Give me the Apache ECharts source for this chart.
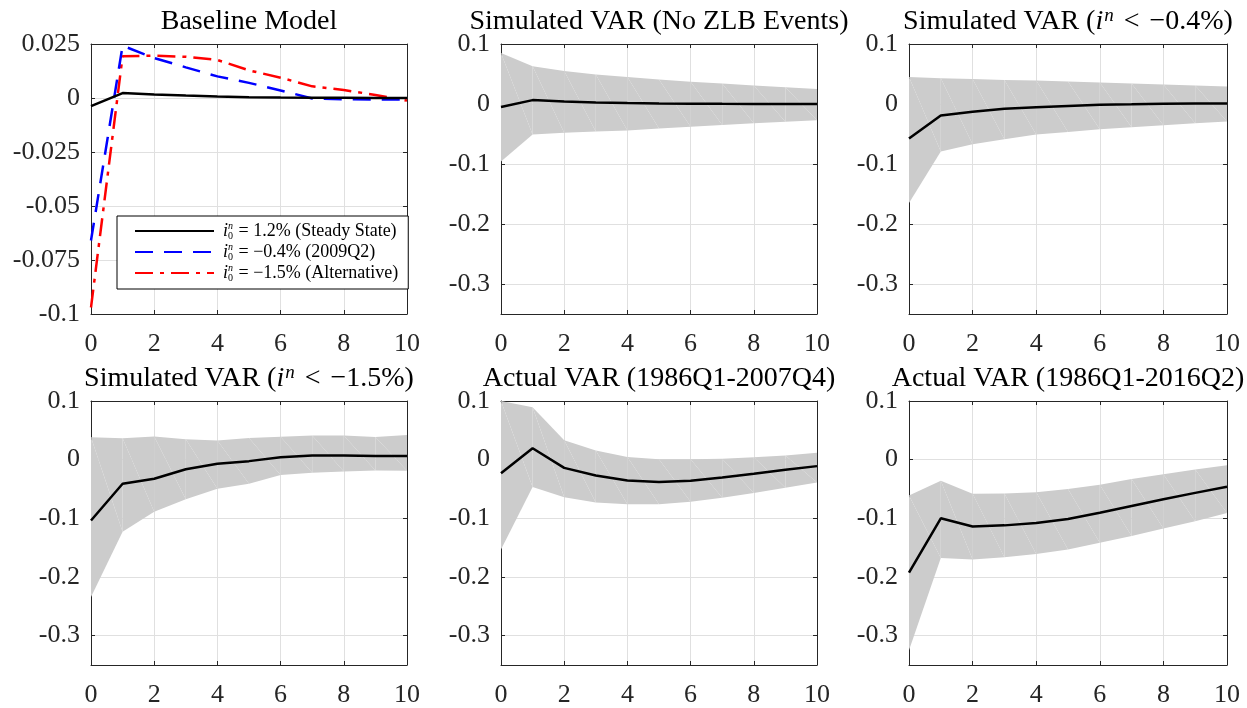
<!DOCTYPE html>
<html>
<head>
<meta charset="utf-8">
<title>Impulse responses</title>
<script src="https://cdn.jsdelivr.net/npm/echarts@6/dist/echarts.min.js"></script>
<style>
  html, body { margin: 0; padding: 0; background: #fff; }
  #chart { width: 1247px; height: 708px; }
</style>
</head>
<body>
<div id="chart"></div>
<script>
// Quarters after the shock
const horizon = [0, 1, 2, 3, 4, 5, 6, 7, 8, 9, 10];
const xTicks = [0, 2, 4, 6, 8, 10];

// Baseline model responses for three initial natural rates
const baseSteady = [-0.0038, 0.0023, 0.0016, 0.0011, 0.0007, 0.0004, 0.0002, 0.0001, 0.0001, 0.0000, 0.0000];
const base2009 = [-0.066, 0.0242, 0.0185, 0.0142, 0.0100, 0.0070, 0.0035, -0.0002, -0.0006, -0.0007, -0.0007];
const baseAlt = [-0.097, 0.0193, 0.0196, 0.0191, 0.0176, 0.0128, 0.0094, 0.0054, 0.0037, 0.0014, -0.0012];
const baseLegend = ['1.2% (Steady State)', '\u22120.4% (2009Q2)', '\u22121.5% (Alternative)'];

// Simulated VAR, no ZLB events
const noZlbMid = [-0.005, 0.0065, 0.004, 0.0025, 0.0015, 0.001, 0.0006, 0.0003, 0.0001, 0.0000, -0.0001];
const noZlbHi = [0.085, 0.063, 0.055, 0.049, 0.045, 0.041, 0.037, 0.034, 0.031, 0.028, 0.025];
const noZlbLo = [-0.096, -0.051, -0.048, -0.046, -0.044, -0.041, -0.038, -0.035, -0.032, -0.0295, -0.027];

// Simulated VAR, i^n < -0.4%
const sim04Mid = [-0.0576, -0.019, -0.013, -0.0078, -0.0055, -0.0033, -0.0011, -0.0005, 0.0005, 0.001, 0.001];
const sim04Hi = [0.045, 0.043, 0.0415, 0.040, 0.039, 0.0377, 0.036, 0.034, 0.0327, 0.031, 0.029];
const sim04Lo = [-0.165, -0.079, -0.067, -0.0587, -0.051, -0.0465, -0.042, -0.0388, -0.0355, -0.032, -0.029];

// Simulated VAR, i^n < -1.5%
const sim15Mid = [-0.1036, -0.041, -0.0325, -0.0164, -0.007, -0.0025, 0.004, 0.007, 0.007, 0.0064, 0.0064];
const sim15Hi = [0.038, 0.0364, 0.0397, 0.035, 0.0325, 0.037, 0.039, 0.0414, 0.0414, 0.0386, 0.042];
const sim15Lo = [-0.234, -0.123, -0.0886, -0.0675, -0.0497, -0.041, -0.026, -0.0225, -0.020, -0.0186, -0.019];

// Actual VAR, 1986Q1-2007Q4
const act07Mid = [-0.023, 0.0194, -0.014, -0.027, -0.0355, -0.038, -0.036, -0.0305, -0.024, -0.017, -0.011];
const act07Hi = [0.1, 0.0894, 0.0333, 0.0155, 0.0044, 0.0005, 0.0005, 0.0017, 0.004, 0.0072, 0.012];
const act07Lo = [-0.153, -0.0466, -0.064, -0.073, -0.076, -0.076, -0.0717, -0.065, -0.0567, -0.048, -0.039];

// Actual VAR, 1986Q1-2016Q2
const act16Mid = [-0.1925, -0.1, -0.114, -0.112, -0.108, -0.101, -0.0905, -0.079, -0.0675, -0.0566, -0.046];
const act16Hi = [-0.061, -0.036, -0.058, -0.0577, -0.0555, -0.05, -0.0427, -0.033, -0.025, -0.0166, -0.0094];
const act16Lo = [-0.325, -0.1675, -0.170, -0.1665, -0.161, -0.153, -0.1415, -0.130, -0.1175, -0.105, -0.091];

// Y-axis tick labels
const baseYTicks = [-0.1, -0.075, -0.05, -0.025, 0, 0.025];
const varYTicks = [-0.3, -0.2, -0.1, 0, 0.1];

// ---- layout ----
const FONT = 'Liberation Serif';
const AXIS_COLOR = '#262626';
const GRID_COLOR = '#e0e0e0';
const BAND_COLOR = '#cccccc';
const colLeft = [91, 501, 909];
const colWidth = [316, 316, 318];
const rowTop = [44, 401];
const plotHeight = 270;
const titleTop = [6, 363];

const panels = [
  { title: '{t|Baseline Model}', ymin: -0.1, ymax: 0.025, yint: 0.025 },
  { title: '{t|Simulated VAR (No ZLB Events)}', mid: noZlbMid, hi: noZlbHi, lo: noZlbLo },
  { title: '{t|Simulated VAR (}{it|i}{sup|n}{rel|<}{t|\u22120.4%)}', mid: sim04Mid, hi: sim04Hi, lo: sim04Lo },
  { title: '{t|Simulated VAR (}{it|i}{sup|n}{rel|<}{t|\u22121.5%)}', mid: sim15Mid, hi: sim15Hi, lo: sim15Lo },
  { title: '{t|Actual VAR (1986Q1-2007Q4)}', mid: act07Mid, hi: act07Hi, lo: act07Lo },
  { title: '{t|Actual VAR (1986Q1-2016Q2)}', mid: act16Mid, hi: act16Hi, lo: act16Lo }
];

const pairs = (ys) => horizon.map((h, i) => [h, ys[i]]);

// One record per horizon step: [x0, lo0, hi0, x1, lo1, hi1]
const bandSegments = (lo, hi) => horizon.slice(0, -1).map((h, i) =>
  [h, lo[i], hi[i], horizon[i + 1], lo[i + 1], hi[i + 1]]);

// Confidence band drawn as two triangles per step
function renderBand(params, api) {
  const a = api.coord([api.value(0), api.value(1)]);
  const b = api.coord([api.value(0), api.value(2)]);
  const c = api.coord([api.value(3), api.value(5)]);
  const d = api.coord([api.value(3), api.value(4)]);
  const style = { fill: BAND_COLOR, stroke: null };
  return {
    type: 'group',
    children: [
      { type: 'polygon', shape: { points: [a, b, d] }, style: style },
      { type: 'polygon', shape: { points: [b, c, d] }, style: style }
    ]
  };
}

const grids = [], xAxes = [], yAxes = [], titles = [], series = [];

const TS = 28;
const titleRich = {
  t: { fontFamily: FONT, fontSize: TS, fontWeight: 'normal', color: '#000', lineHeight: 32 },
  it: { fontFamily: FONT, fontSize: TS, fontWeight: 'normal', fontStyle: 'italic', color: '#000', lineHeight: 32 },
  sup: { fontFamily: FONT, fontSize: 19, fontWeight: 'normal', fontStyle: 'italic', color: '#000', lineHeight: 32, padding: [0, 2, 13, 1] },
  rel: { fontFamily: FONT, fontSize: TS, fontWeight: 'normal', color: '#000', lineHeight: 32, padding: [0, 10, 0, 8] }
};

panels.forEach((p, k) => {
  const r = Math.floor(k / 3), c = k % 3;
  grids.push({ left: colLeft[c], top: rowTop[r], width: colWidth[c], height: plotHeight, containLabel: false });
  titles.push({
    text: p.title,
    left: colLeft[c] + colWidth[c] / 2,
    top: titleTop[r],
    textAlign: 'center',
    padding: 0,
    textStyle: { fontWeight: 'normal', rich: titleRich }
  });

  const isBase = k === 0;
  const ymin = isBase ? p.ymin : -0.35;
  const ymax = isBase ? p.ymax : 0.1;
  const yTicks = isBase ? baseYTicks : varYTicks;

  const lineCommon = { show: true, lineStyle: { color: AXIS_COLOR, width: 1 } };
  const tickCommon = { show: true, inside: true, length: 4, lineStyle: { color: AXIS_COLOR, width: 1 } };

  xAxes.push({
    type: 'value', gridIndex: k, position: 'bottom', min: 0, max: 10, interval: 2,
    axisLine: Object.assign({ onZero: false }, lineCommon), axisTick: tickCommon,
    axisLabel: { color: AXIS_COLOR, fontFamily: FONT, fontSize: 26, margin: 17, customValues: xTicks },
    splitLine: { show: true, lineStyle: { color: GRID_COLOR, width: 1 } }
  });
  xAxes.push({
    type: 'value', gridIndex: k, position: 'top', min: 0, max: 10, interval: 2,
    axisLine: Object.assign({ onZero: false }, lineCommon), axisTick: tickCommon,
    axisLabel: { show: false }, splitLine: { show: false }
  });
  const yLabel = { color: AXIS_COLOR, fontFamily: FONT, fontSize: 26, margin: 11, customValues: yTicks,
    formatter: (v) => String(Math.round(v * 1000) / 1000) };
  yAxes.push({
    type: 'value', gridIndex: k, position: 'left', min: ymin, max: ymax,
    interval: isBase ? p.yint : undefined, splitNumber: 5,
    axisLine: Object.assign({ onZero: false }, lineCommon),
    axisTick: Object.assign({ customValues: yTicks }, tickCommon),
    axisLabel: yLabel,
    splitLine: { show: true, lineStyle: { color: GRID_COLOR, width: 1 } }
  });
  yAxes.push({
    type: 'value', gridIndex: k, position: 'right', min: ymin, max: ymax,
    interval: isBase ? p.yint : undefined, splitNumber: 5,
    axisLine: Object.assign({ onZero: false }, lineCommon),
    axisTick: Object.assign({ customValues: yTicks }, tickCommon),
    axisLabel: { show: false }, splitLine: { show: false }
  });

  const xi = 2 * k, yi = 2 * k;
  if (isBase) {
    const baseSets = [
      { data: baseSteady, color: '#000000', type: 'solid' },
      { data: base2009, color: '#0000ff', type: [18, 11] },
      { data: baseAlt, color: '#ff0000', type: [18, 7, 4, 7] }
    ];
    baseSets.forEach((s, j) => {
      series.push({
        type: 'line', name: baseLegend[j], xAxisIndex: xi, yAxisIndex: yi,
        data: pairs(s.data), symbol: 'none', silent: true, animation: false,
        lineStyle: { color: s.color, width: 2.5, type: s.type }, itemStyle: { color: s.color },
        z: 3 + (2 - j)
      });
    });
  } else {
    series.push({
      type: 'custom', xAxisIndex: xi, yAxisIndex: yi, silent: true, animation: false, clip: true,
      data: bandSegments(p.lo, p.hi),
      encode: { x: [0, 3], y: [1, 2, 4, 5] },
      renderItem: renderBand, z: 2
    });
    series.push({
      type: 'line', xAxisIndex: xi, yAxisIndex: yi,
      data: pairs(p.mid), symbol: 'none', silent: true, animation: false,
      lineStyle: { color: '#000', width: 2.5 }, z: 4
    });
  }
});

const LS = 18;
const chart = echarts.init(document.getElementById('chart'), null, { renderer: 'canvas' });
chart.setOption({
  backgroundColor: '#ffffff',
  animation: false,
  title: titles,
  grid: grids,
  xAxis: xAxes,
  yAxis: yAxes,
  legend: {
    data: baseLegend,
    orient: 'vertical',
    left: 117, top: 216,
    padding: [5, 10, 6, 17],
    itemGap: 1,
    itemWidth: 79, itemHeight: 16,
    backgroundColor: '#ffffff',
    borderColor: '#000000', borderWidth: 1, borderRadius: 0,
    selectedMode: false,
    itemStyle: { color: 'rgba(0,0,0,0)', borderWidth: 0, opacity: 0 },
    formatter: (name) => '{i|i}{n|n}{z|0}{t| = ' + name + '}',
    textStyle: {
      fontFamily: FONT, fontSize: LS, color: '#000', padding: [0, 0, 0, 4], lineHeight: 22,
      rich: {
        i: { fontFamily: FONT, fontSize: LS, fontStyle: 'italic', color: '#000', lineHeight: 20 },
        n: { fontFamily: FONT, fontSize: 10, fontStyle: 'italic', color: '#000', width: 0, lineHeight: 10, verticalAlign: 'top' },
        z: { fontFamily: FONT, fontSize: 10, color: '#000', lineHeight: 10, verticalAlign: 'bottom', padding: [0, 1, 0, 0] },
        t: { fontFamily: FONT, fontSize: LS, color: '#000', lineHeight: 20 }
      }
    }
  },
  series: series
});
</script>
</body>
</html>
